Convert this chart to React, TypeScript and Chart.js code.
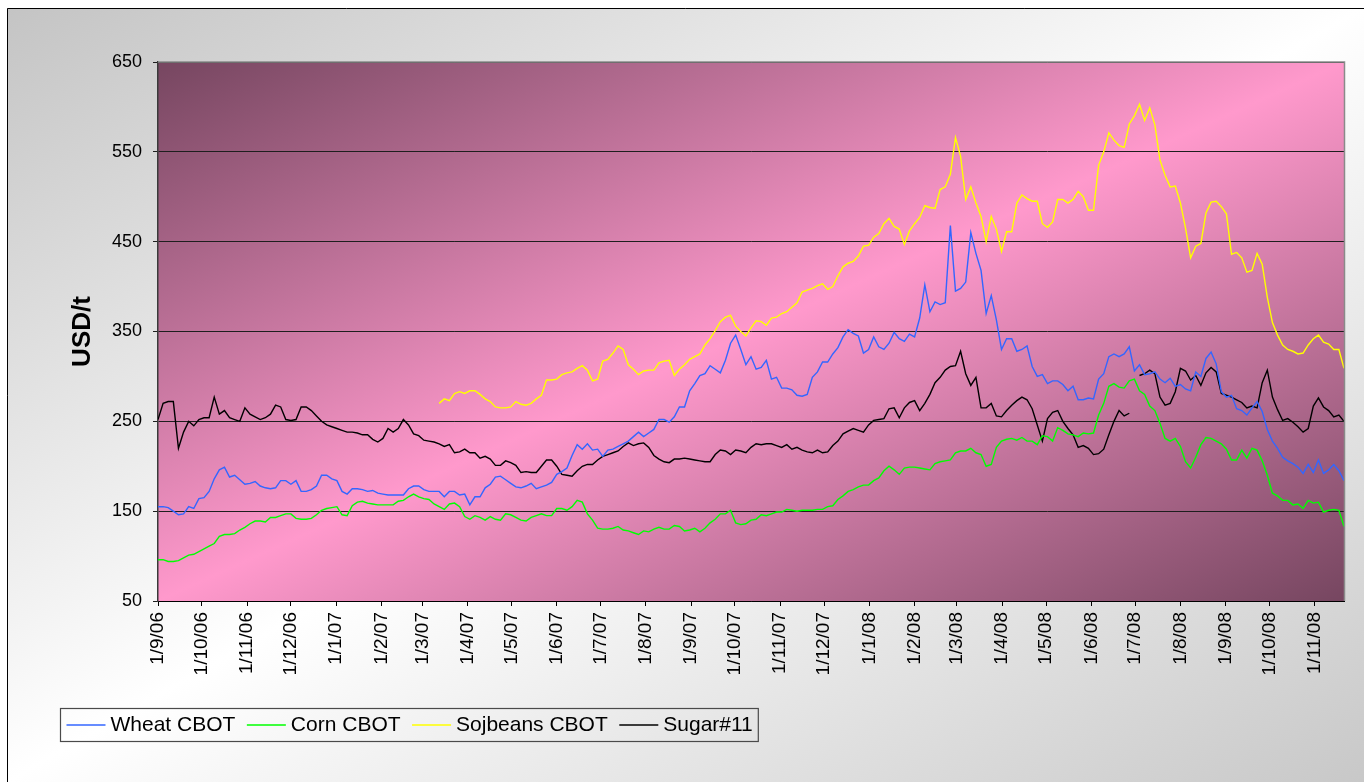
import React, { useEffect, useRef } from 'react';
import { Chart, registerables } from 'chart.js';

Chart.register(...registerables);

// ---- Data: samples every 3.5 days starting 1 Sep 2006 (x = days since 1/9/06) ----
const START_UTC = Date.UTC(2006, 8, 1);
const DAY_MS = 86400000;
const STEP_DAYS = 3.5;
const AXIS_END_DAY = 812; // ~21 Nov 2008

const monthLabels = [
  '1/9/06', '1/10/06', '1/11/06', '1/12/06',
  '1/1/07', '1/2/07', '1/3/07', '1/4/07', '1/5/07', '1/6/07', '1/7/07', '1/8/07', '1/9/07', '1/10/07', '1/11/07', '1/12/07',
  '1/1/08', '1/2/08', '1/3/08', '1/4/08', '1/5/08', '1/6/08', '1/7/08', '1/8/08', '1/9/08', '1/10/08', '1/11/08',
];

const yTicks = [50, 150, 250, 350, 450, 550, 650];

const seriesNames = ['Wheat CBOT', 'Corn CBOT', 'Sojbeans CBOT', 'Sugar#11'];
const seriesColors = ['#3366FF', '#00FF00', '#FFFF00', '#000000'];

const wheat = [
  155, 155, 154, 150, 146, 147, 155, 153, 164, 165, 172, 186, 196, 199, 188, 190, 185, 180, 181, 183,
  178, 176, 175, 176, 184, 184, 180, 184, 172, 172, 174, 178, 190, 190, 186, 184, 172, 169, 175, 175,
  174, 172, 173, 170, 169, 168, 168, 168, 168, 175, 178, 178, 174, 172, 172, 172, 166, 172, 172, 168,
  169, 157, 166, 166, 176, 180, 188, 189, 185, 181, 177, 176, 178, 181, 175, 177, 179, 182, 191, 194,
  198, 212, 224, 219, 225, 218, 219, 211, 218, 219, 222, 225, 228, 233, 238, 233, 237, 241, 252, 252,
  249, 255, 266, 266, 284, 292, 301, 303, 312, 308, 304, 318, 337, 346, 330, 313, 322, 308, 310, 318,
  297, 299, 287, 287, 285, 279, 278, 280, 299, 305, 316, 316, 325, 332, 344, 352, 348, 345, 326, 330,
  344, 333, 330, 337, 349, 342, 339, 347, 344, 365, 402, 372, 383, 380, 382, 468, 395, 398, 405, 460,
  437, 418, 370, 390, 363, 330, 342, 342, 328, 330, 334, 311, 300, 302, 292, 295, 295, 291, 284, 289,
  274, 274, 276, 275, 297, 303, 322, 325, 322, 325, 333, 306, 313, 302, 303, 305, 297, 293, 298, 289,
  291, 286, 284, 305, 300, 320, 327, 314, 283, 277, 279, 264, 262, 257, 265, 272, 261, 241, 228, 220,
  210, 206, 203, 199, 192, 202, 193, 207, 192, 196, 202, 195, 184,
];

const corn = [
  96, 96, 94, 94, 95, 98, 101, 102, 105, 108, 111, 114, 122, 124, 124, 125, 129, 132, 136, 139,
  139, 138, 143, 143, 145, 147, 147, 142, 141, 141, 142, 146, 151, 153, 154, 155, 146, 145, 156, 160,
  161, 159, 158, 157, 157, 157, 157, 161, 162, 166, 169, 166, 164, 163, 158, 155, 152, 158, 159, 155,
  144, 141, 145, 143, 140, 144, 141, 140, 147, 146, 143, 140, 139, 143, 145, 147, 145, 145, 153, 153,
  151, 155, 162, 160, 147, 140, 131, 130, 130, 131, 133, 129, 128, 126, 124, 128, 127, 130, 132, 130,
  130, 134, 133, 128, 129, 131, 127, 131, 137, 141, 147, 147, 151, 137, 135, 136, 140, 141, 146, 145,
  147, 149, 149, 152, 151, 150, 151, 151, 151, 152, 152, 155, 156, 163, 167, 172, 174, 177, 179, 179,
  184, 187, 195, 200, 196, 191, 198, 199, 199, 198, 197, 196, 203, 205, 206, 207, 215, 217, 217, 220,
  215, 213, 200, 202, 221, 228, 230, 231, 229, 232, 228, 228, 224, 234, 233, 228, 243, 240, 236, 235,
  233, 237, 236, 237, 257, 270, 289, 292, 288, 287, 295, 297, 284, 280, 267, 262, 248, 231, 228, 231,
  222, 205, 198, 210, 224, 232, 231, 228, 225, 219, 207, 207, 218, 209, 220, 218, 206, 190, 170, 167,
  162, 162, 157, 158, 153, 162, 159, 160, 149, 151, 152, 151, 133,
];

const soybeans = [
  null, null, null, null, null, null, null, null, null, null, null, null, null, null, null, null, null, null, null, null,
  null, null, null, null, null, null, null, null, null, null, null, null, null, null, null, null, null, null, null, null,
  null, null, null, null, null, null, null, null, null, null, null, null, null, null, null, 270, 275, 273, 281, 283,
  281, 284, 284, 280, 275, 272, 266, 265, 265, 266, 272, 269, 268, 270, 275, 279, 296, 296, 297, 302,
  304, 305, 309, 312, 307, 295, 297, 317, 319, 326, 334, 330, 313, 308, 302, 306, 307, 307, 315, 317,
  318, 301, 308, 313, 319, 322, 325, 335, 342, 351, 361, 366, 368, 356, 350, 345, 354, 362, 361, 357,
  365, 366, 370, 372, 377, 382, 394, 396, 398, 401, 403, 397, 400, 412, 422, 426, 428, 434, 445, 446,
  455, 459, 470, 476, 467, 464, 447, 462, 470, 477, 490, 488, 487, 508, 511, 525, 566, 545, 497, 511,
  493, 478, 450, 478, 464, 439, 461, 461, 493, 502, 498, 495, 495, 470, 466, 472, 497, 497, 493, 497,
  506, 500, 485, 485, 535, 550, 571, 563, 557, 555, 581, 590, 603, 585, 599, 580, 541, 524, 511, 512,
  493, 465, 432, 445, 448, 482, 494, 495, 489, 481, 436, 438, 432, 416, 418, 437, 425, 388, 360, 346,
  335, 330, 328, 325, 326, 335, 342, 346, 338, 336, 330, 330, 309,
];

const sugar = [
  252, 270, 272, 272, 220, 238, 250, 245, 252, 254, 254, 277, 258, 262, 254, 252, 250, 265, 258, 255,
  252, 254, 258, 268, 266, 252, 251, 252, 266, 266, 262, 256, 250, 246, 244, 242, 240, 238, 238, 237,
  235, 235, 230, 227, 231, 242, 238, 242, 252, 246, 236, 234, 229, 228, 227, 225, 222, 224, 215, 216,
  219, 215, 215, 209, 211, 208, 201, 201, 206, 204, 201, 193, 194, 193, 193, 200, 207, 207, 200, 191,
  190, 189, 195, 200, 202, 202, 207, 211, 213, 215, 217, 222, 226, 223, 225, 226, 221, 212, 208, 205,
  204, 208, 208, 209, 208, 207, 206, 205, 205, 213, 218, 217, 213, 218, 217, 215, 221, 225, 224, 225,
  225, 223, 221, 224, 219, 221, 218, 216, 215, 218, 215, 216, 223, 228, 236, 239, 242, 240, 238, 246,
  251, 252, 253, 264, 265, 254, 265, 271, 273, 262, 270, 280, 293, 299, 307, 311, 312, 328, 303, 290,
  299, 265, 265, 270, 256, 255, 262, 268, 273, 277, 274, 264, 246, 228, 253, 260, 262, 250, 242, 235,
  221, 223, 220, 213, 214, 219, 235, 250, 262, 256, 259, null, 301, 303, 307, 303, 277, 268, 270, 283,
  309, 306, 296, 301, 290, 304, 310, 305, 281, 279, 277, 274, 271, 265, 267, 265, 293, 307, 277, 263,
  251, 253, 249, 244, 238, 242, 267, 276, 266, 262, 255, 257, 250,
];

const seriesValues = [wheat, corn, soybeans, sugar];

// ---- helpers ----
const monthStartDays = monthLabels.map((l) => {
  const [d, m, y] = l.split('/').map(Number);
  return Math.round((Date.UTC(2000 + y, m - 1, d) - START_UTC) / DAY_MS);
});

const FONT = '"Liberation Sans", Arial, Helvetica, sans-serif';

function diagGradient(ctx: CanvasRenderingContext2D, x: number, y: number, w: number, h: number, stops: [number, string][]) {
  const k = (2 * w * h) / (w * w + h * h);
  const g = ctx.createLinearGradient(x, y, x + h * k, y + w * k);
  stops.forEach(([o, c]) => g.addColorStop(o, c));
  return g;
}

const backgroundPlugin = {
  id: 'bgPlugin',
  beforeDraw(chart: any) {
    const { ctx, width, height, chartArea: a } = chart;
    ctx.save();
    ctx.fillStyle = diagGradient(ctx, 0, 0, width, height, [
      [0, '#c4c4c4'],
      [0.5, '#ffffff'],
      [1, '#c8c8c8'],
    ]);
    ctx.fillRect(0, 0, width, height);
    ctx.fillStyle = diagGradient(ctx, a.left, a.top, a.right - a.left, a.bottom - a.top, [
      [0, '#764660'],
      [0.5, '#ff99cc'],
      [1, '#764660'],
    ]);
    ctx.fillRect(a.left, a.top, a.right - a.left, a.bottom - a.top);
    ctx.restore();
  },
  afterDraw(chart: any) {
    const { ctx, width, height, chartArea: a } = chart;
    ctx.save();
    // plot-area border (top/right, grey)
    ctx.strokeStyle = '#8a8a8a';
    ctx.lineWidth = 1.5;
    ctx.beginPath();
    ctx.moveTo(a.left, a.top);
    ctx.lineTo(a.right + 0.5, a.top);
    ctx.lineTo(a.right + 0.5, a.bottom);
    ctx.stroke();

    // outer frame (top/left visible)
    ctx.strokeStyle = '#000';
    ctx.lineWidth = 1;
    ctx.beginPath();
    ctx.moveTo(0.5, height);
    ctx.lineTo(0.5, 0.5);
    ctx.lineTo(width, 0.5);
    ctx.stroke();

    // legend
    const boxX = 53;
    const boxY = 700;
    const boxH = 33;
    const cy = boxY + boxH / 2 + 0.5;
    ctx.font = `21px ${FONT}`;
    ctx.textBaseline = 'middle';
    ctx.textAlign = 'left';
    let x = boxX + 6.5;
    chart.data.datasets.forEach((ds: any, i: number) => {
      ctx.strokeStyle = ds.borderColor;
      ctx.lineWidth = 1.5;
      ctx.beginPath();
      ctx.moveTo(x, cy);
      ctx.lineTo(x + 39, cy);
      ctx.stroke();
      ctx.fillStyle = '#000';
      ctx.fillText(ds.label, x + 44, cy);
      const w = ctx.measureText(ds.label).width;
      x = x + 44 + w + (i < chart.data.datasets.length - 1 ? 11.5 : 0);
    });
    const boxW = x + 5 - boxX;
    ctx.strokeStyle = '#4a4a4a';
    ctx.lineWidth = 1.2;
    ctx.strokeRect(boxX + 0.5, boxY + 0.5, boxW, boxH);
    ctx.restore();
  },
};

export default function App() {
  const canvasRef = useRef<HTMLCanvasElement>(null);

  useEffect(() => {
    const datasets = seriesNames.map((name, si) => ({
      label: name,
      data: seriesValues[si].map((v, i) => ({ x: i * STEP_DAYS, y: v })),
      borderColor: seriesColors[si],
      backgroundColor: seriesColors[si],
      borderWidth: 1.4,
      pointRadius: 0,
      tension: 0,
      spanGaps: false,
      fill: false,
    }));

    const chart = new Chart(canvasRef.current as HTMLCanvasElement, {
      type: 'line',
      data: { datasets },
      options: {
        animation: false,
        responsive: true,
        maintainAspectRatio: false,
        layout: { padding: { left: 0, top: 54, right: 20, bottom: 0 } },
        plugins: {
          legend: { display: false },
          tooltip: { enabled: false },
        },
        scales: {
          x: {
            type: 'linear',
            min: 0,
            max: AXIS_END_DAY,
            afterBuildTicks: (scale: any) => {
              scale.ticks = monthStartDays.map((v) => ({ value: v }));
            },
            afterFit: (scale: any) => {
              scale.height = 181;
            },
            ticks: {
              autoSkip: false,
              minRotation: 90,
              maxRotation: 90,
              padding: 6,
              color: '#000',
              font: { family: FONT, size: 19 },
              callback: (value: any) => {
                const idx = monthStartDays.indexOf(Number(value));
                return idx >= 0 ? monthLabels[idx] : '';
              },
            },
            grid: { drawOnChartArea: false, drawTicks: true, tickLength: 5, color: '#000' },
            border: { display: true, color: '#000', width: 1 },
          },
          y: {
            min: yTicks[0],
            max: yTicks[yTicks.length - 1],
            afterBuildTicks: (scale: any) => {
              scale.ticks = yTicks.map((v) => ({ value: v }));
            },
            afterFit: (scale: any) => {
              scale.width = 151;
            },
            ticks: {
              padding: 11,
              color: '#000',
              font: { family: FONT, size: 18 },
            },
            grid: { color: '#1e1e1e', lineWidth: 1, tickLength: 5 },
            border: { display: true, color: '#3a3a3a', width: 1.5 },
            title: {
              display: true,
              text: 'USD/t',
              color: '#000',
              font: { family: FONT, size: 26, weight: 'bold' },
              padding: { top: 60, bottom: 0 },
            },
          },
        },
      },
      plugins: [backgroundPlugin],
    } as any);

    return () => chart.destroy();
  }, []);

  return (
    <div style={{ position: 'fixed', left: 7, top: 8, width: 1357, height: 774 }}>
      <canvas ref={canvasRef} />
    </div>
  );
}
